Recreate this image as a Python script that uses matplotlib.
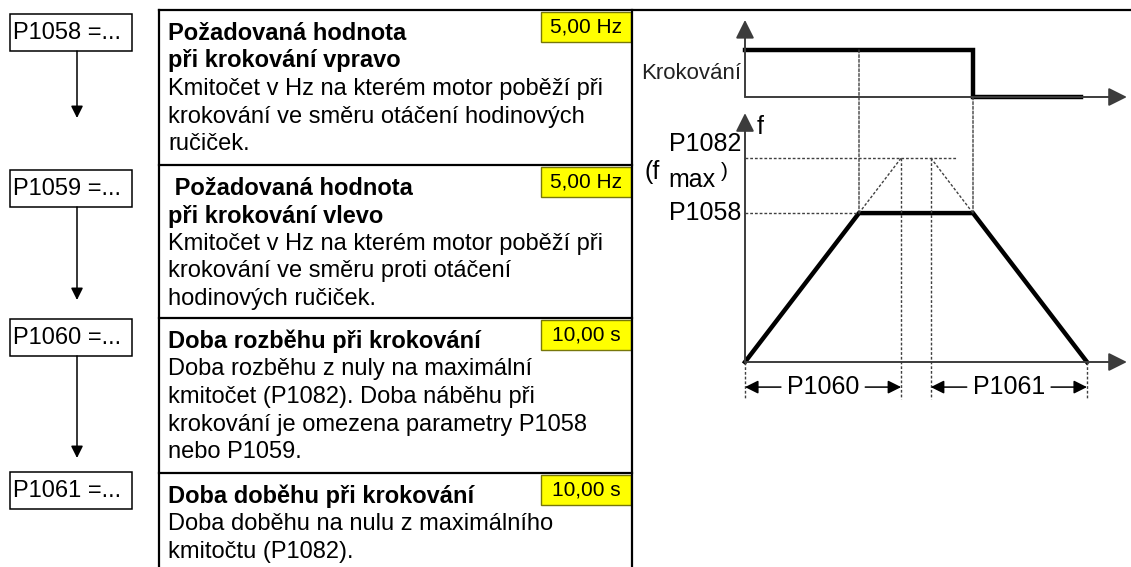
import matplotlib
matplotlib.use("Agg")
import matplotlib.pyplot as plt
from matplotlib.patches import Rectangle, ConnectionPatch

plt.rcParams["font.family"] = ["Liberation Sans", "DejaVu Sans"]

# parameter table
param_names = ["P1058 =...", "P1059 =...", "P1060 =...", "P1061 =..."]
param_values = ["5,00 Hz", "5,00 Hz", "10,00 s", "10,00 s"]
param_titles = [
    ["Požadovaná hodnota", "při krokování vpravo"],
    [" Požadovaná hodnota", "při krokování vlevo"],
    ["Doba rozběhu při krokování"],
    ["Doba doběhu při krokování"],
]
param_texts = [
    ["Kmitočet v Hz na kterém motor poběží při",
     "krokování ve směru otáčení hodinových",
     "ručiček."],
    ["Kmitočet v Hz na kterém motor poběží při",
     "krokování ve směru proti otáčení",
     "hodinových ručiček."],
    ["Doba rozběhu z nuly na maximální",
     "kmitočet (P1082). Doba náběhu při",
     "krokování je omezena parametry P1058",
     "nebo P1059."],
    ["Doba doběhu na nulu z maximálního",
     "kmitočtu (P1082)."],
]

# jog diagram (time in arbitrary units, f relative to f_max)
f_max = 1.0
f_jog = 0.73
jog_t = [0.0, 2.0, 2.0, 2.95]
jog_sig = [1, 1, 0, 0]
ramp_t = [0.0, 1.0, 2.0, 3.0]
ramp_f = [0.0, 0.73, 0.73, 0.0]
fmax_reach_t = [1.37, 1.63]   # where ramps extended to f_max end / start

W, H = 1131, 567
fig = plt.figure(figsize=(W / 100, H / 100), dpi=100)
ax = fig.add_axes([0, 0, 1, 1])
ax.set_xlim(0, W)
ax.set_ylim(H, 0)
ax.axis("off")

# ---- table frame ----
col_left, col_right = 159, 632
block_tops = [10, 165, 318, 473]
ax.plot([col_left, W], [10, 10], color="k", lw=1.6)
ax.plot([col_left, col_left], [10, H], color="k", lw=1.6)
ax.plot([col_right, col_right], [10, H], color="k", lw=1.6)
for y in block_tops[1:]:
    ax.plot([col_left, col_right], [y, y], color="k", lw=1.6)

fs = 17
line_h = 27.5
for top, title, text, val in zip(block_tops, param_titles, param_texts, param_values):
    y = top + 30
    for s in title:
        ax.text(168, y, s, fontsize=fs, fontweight="bold", va="baseline", ha="left")
        y += line_h
    for s in text:
        ax.text(168, y, s, fontsize=fs, va="baseline", ha="left")
        y += line_h
    ax.add_patch(Rectangle((541, top + 2), 90, 30, facecolor="#ffff00",
                           edgecolor="#77770a", lw=1))
    ax.text(586, top + 17, val, fontsize=15, va="center", ha="center")

# ---- left parameter boxes ----
box_tops = [14, 170, 319, 472]
arrow_tips = [118, 300, 458]
for i, (bt, name) in enumerate(zip(box_tops, param_names)):
    ax.add_patch(Rectangle((10, bt), 122, 37, facecolor="white",
                           edgecolor="k", lw=1.1))
    ax.text(13, bt + 19, name, fontsize=17, va="center", ha="left")
    if i < len(arrow_tips):
        ax.annotate("", xy=(77, arrow_tips[i]), xytext=(77, bt + 37),
                    arrowprops=dict(arrowstyle="-|>", color="k", lw=1.1,
                                    mutation_scale=18, shrinkA=0, shrinkB=0))


# ---- diagram axes placed in pixel space ----
def graph_axes(x0, y0, sx, sy, xlim, ylim):
    left = (x0 + xlim[0] * sx) / W
    bottom = (H - (y0 - ylim[0] * sy)) / H
    a = fig.add_axes([left, bottom, (xlim[1] - xlim[0]) * sx / W,
                      (ylim[1] - ylim[0]) * sy / H])
    a.set_xlim(*xlim)
    a.set_ylim(*ylim)
    a.axis("off")
    a.patch.set_alpha(0)
    return a


ax_up = graph_axes(745, 97, 114, 47, (-0.2, 3.4), (-0.1, 1.7))
ax_lo = graph_axes(745, 362, 114, 204, (-0.2, 3.4), (-0.3, 1.25))

axis_col = "#3c3c3c"
dot_col = "#404040"
dots = (0, (2.0, 1.4))
arr = dict(arrowstyle="-|>", color="k", lw=1.4, mutation_scale=28,
           shrinkA=0, shrinkB=0)

for a, ytop in [(ax_up, 1.64), (ax_lo, 1.22)]:
    a.annotate("", xy=(0, ytop), xytext=(0, 0),
               arrowprops=dict(arr, color=axis_col))
    a.annotate("", xy=(3.35, 0), xytext=(0, 0),
               arrowprops=dict(arr, color=axis_col))

# jog signal
ax_up.plot(jog_t, jog_sig, color="k", lw=3.2, solid_joinstyle="miter", clip_on=False)
ax_up.text(-0.03, 0.5, "Krokování", fontsize=16, ha="right", va="center",
           color="#222222")

# frequency ramp
ax_lo.plot(ramp_t, ramp_f, color="k", lw=3.2, solid_joinstyle="miter", clip_on=False)
ax_lo.plot([0, ramp_t[1]], [f_jog, f_jog], color=dot_col, lw=1, ls=dots)
ax_lo.plot([0, 1.86], [f_max, f_max], color=dot_col, lw=1, ls=dots)
ax_lo.plot([ramp_t[1], fmax_reach_t[0]], [f_jog, f_max], color=dot_col, lw=1, ls=dots)
ax_lo.plot([fmax_reach_t[1], ramp_t[2]], [f_max, f_jog], color=dot_col, lw=1, ls=dots)

dim_y = -0.123
dim_bot = -0.18
for t in fmax_reach_t:
    ax_lo.plot([t, t], [f_max, dim_bot], color=dot_col, lw=1, ls=dots)
for t in [ramp_t[0], ramp_t[3]]:
    ax_lo.plot([t, t], [0, dim_bot], color=dot_col, lw=1, ls=dots)

# dotted links between the two plots
for t, ya in [(ramp_t[1], 1), (ramp_t[2], 0)]:
    con = ConnectionPatch(xyA=(t, ya), coordsA=ax_up.transData,
                          xyB=(t, f_jog), coordsB=ax_lo.transData,
                          color=dot_col, lw=1, ls=dots)
    fig.add_artist(con)

# labels on the f axis
ax_lo.text(0.1, 1.15, "f", fontsize=18, ha="left", va="center")
ax_lo.text(-0.03, f_max + 0.01, "P1082", fontsize=18, ha="right", va="bottom")
ax_lo.text(-0.03, f_jog, "P1058", fontsize=18, ha="right", va="center")
ax.text(645, 179, "(f", fontsize=18, ha="left", va="baseline")
ax.text(668, 187, "max", fontsize=18, ha="left", va="baseline")
ax.text(721, 177, ")", fontsize=15, ha="left", va="baseline")

# dimension arrows
small_arr = dict(arrowstyle="-|>", color="k", lw=1.1, mutation_scale=20,
                 shrinkA=0, shrinkB=0)
for (t0, t1), lab in [((ramp_t[0], fmax_reach_t[0]), "P1060"),
                      ((fmax_reach_t[1], ramp_t[3]), "P1061")]:
    c = (t0 + t1) / 2
    ax_lo.text(c, dim_y, lab, fontsize=18, ha="center", va="center")
    ax_lo.annotate("", xy=(t0, dim_y), xytext=(c - 0.37, dim_y), arrowprops=small_arr)
    ax_lo.annotate("", xy=(t1, dim_y), xytext=(c + 0.37, dim_y), arrowprops=small_arr)

fig.savefig("out.png", dpi=100, facecolor="white")
